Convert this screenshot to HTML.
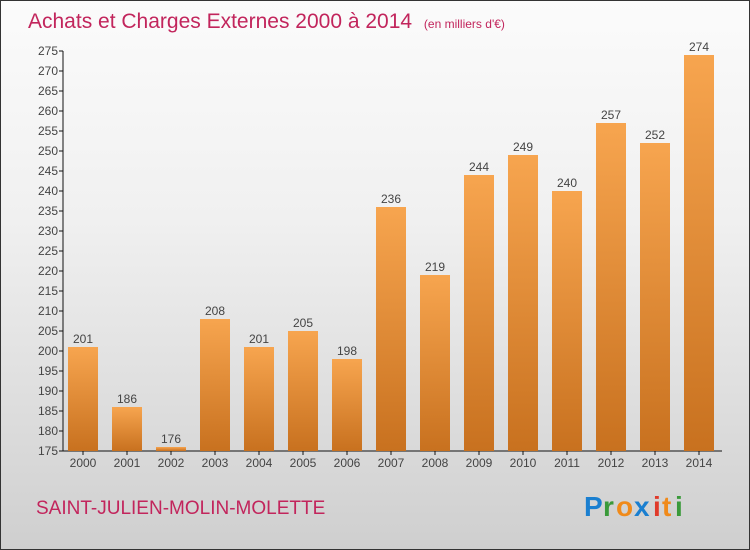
<!DOCTYPE html>
<html><head><meta charset="utf-8"><style>
body{margin:0}
#c{position:relative;width:748px;height:548px;border:1px solid #333;background:linear-gradient(#fbfbfb 0%,#f0f0f0 40%,#cfcfcf 100%);overflow:hidden;font-family:"Liberation Sans",sans-serif}
</style></head><body>
<div id="c">
<svg width="748" height="548">
<defs><linearGradient id="bg" x1="0" y1="0" x2="0" y2="1"><stop offset="0" stop-color="#f7a54f"/><stop offset="1" stop-color="#c8711f"/></linearGradient></defs>
<text x="27" y="27" font-size="21" fill="#c2255c">Achats et Charges Externes 2000 à 2014 <tspan font-size="12" dx="6">(en milliers d'€)</tspan></text>
<g id="axes"></g><g id="bars"></g>
<text x="35" y="513" font-size="19" fill="#c2255c">SAINT-JULIEN-MOLIN-MOLETTE</text>
<g font-size="28" font-weight="bold">
<text x="583" y="515" fill="#1a7fd0">P</text><text x="602" y="515" fill="#3a9a3a">r</text><text x="615" y="515" fill="#f08a1a">o</text><text x="633" y="515" fill="#1a7fd0">x</text><text x="652" y="515" fill="#e03a2a">i</text><text x="661" y="515" fill="#f08a1a">t</text><text x="674" y="515" fill="#3a9a3a">i</text></g>
</svg></div>
<script>
const years=["2000","2001","2002","2003","2004","2005","2006","2007","2008","2009","2010","2011","2012","2013","2014"];
const values=[201,186,176,208,201,205,198,236,219,244,249,240,257,252,274];
const ticks=[175,180,185,190,195,200,205,210,215,220,225,230,235,240,245,250,255,260,265,270,275];
const ns="http://www.w3.org/2000/svg";
const y=v=>450-(v-175)*4, x=i=>82+i*44;
function mk(t,a,p){const e=document.createElementNS(ns,t);for(const k in a)e.setAttribute(k,a[k]);p.appendChild(e);return e;}
const ax=document.getElementById('axes'),bs=document.getElementById('bars');
let l=mk('line',{x1:62,y1:50,x2:62,y2:450,stroke:'#111'},ax);


l=mk('line',{x1:62,y1:450,x2:721,y2:450,stroke:'#111'},ax);


ticks.forEach(t=>{mk('line',{x1:58,x2:62,y1:y(t),y2:y(t),stroke:'#111'},ax);
const tx=mk('text',{x:57,y:y(t)+4,'font-size':12,fill:'#444','text-anchor':'end'},ax);tx.textContent=t;

});
years.forEach((yr,i)=>{
const r=mk('rect',{x:x(i)-15,y:y(values[i]),width:30,height:450-y(values[i]),fill:'url(#bg)'},bs);


const v=mk('text',{x:x(i),y:y(values[i])-4,'font-size':12,fill:'#444','text-anchor':'middle'},bs);v.textContent=values[i];


const t=mk('text',{x:x(i),y:466,'font-size':12,fill:'#444','text-anchor':'middle'},bs);t.textContent=yr;


mk('line',{x1:x(i),x2:x(i),y1:450,y2:454,stroke:'#111'},ax);});
</script></body></html>
